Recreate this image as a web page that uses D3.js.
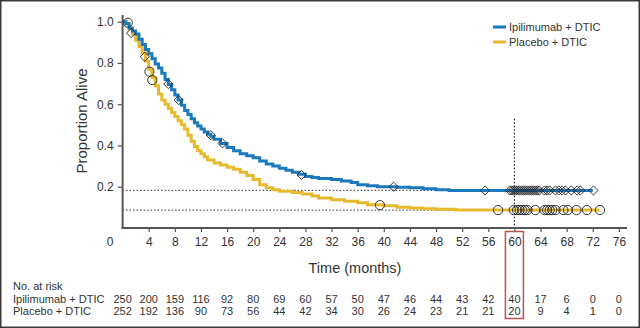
<!DOCTYPE html>
<html>
<head>
<meta charset="utf-8">
<script src="https://cdn.jsdelivr.net/npm/d3@7"></script>
<style>
  body { margin: 0; background: #fff; }
  svg { display: block; font-family: "Liberation Sans", Arial, sans-serif; }
</style>
</head>
<body>
<div id="chart"></div>
<script>
// Kaplan-Meier steps: [months, proportion alive]
const ipiSteps = [
  [0, 1.0], [0.5, 0.99], [1.0, 0.97], [1.5, 0.955], [2.0, 0.94], [2.5, 0.915],
  [3.0, 0.89], [3.5, 0.865], [4.0, 0.845], [4.5, 0.82], [5.0, 0.795], [5.5, 0.775],
  [6.0, 0.75], [6.5, 0.72], [7.0, 0.695], [7.5, 0.67], [8.0, 0.645], [8.5, 0.62],
  [9.0, 0.595], [9.5, 0.57], [10.0, 0.55], [10.5, 0.53], [11.0, 0.51], [11.5, 0.495],
  [12.0, 0.48], [12.5, 0.465], [13.0, 0.455], [13.5, 0.445], [14.0, 0.43], [15.0, 0.41],
  [16.0, 0.39], [17.0, 0.375], [18.0, 0.36], [19.0, 0.35], [20.0, 0.34], [21.0, 0.325],
  [22.0, 0.31], [23.0, 0.30], [24.0, 0.29], [25.0, 0.28], [26.0, 0.27], [27.0, 0.26],
  [28.0, 0.25], [29.0, 0.245], [30.0, 0.24], [32.0, 0.235], [33.5, 0.228], [35.0, 0.22],
  [36.0, 0.21], [37.5, 0.205], [39.0, 0.2], [42.0, 0.198], [44.0, 0.195], [46.0, 0.19],
  [48.0, 0.186], [50.0, 0.182], [72.0, 0.182]
];
const placeboSteps = [
  [0, 1.0], [0.5, 0.99], [1.0, 0.965], [1.5, 0.94], [2.0, 0.91], [2.5, 0.88],
  [3.0, 0.85], [3.5, 0.81], [4.0, 0.77], [4.5, 0.73], [5.0, 0.69], [5.5, 0.65],
  [6.0, 0.62], [6.5, 0.6], [7.0, 0.58], [7.5, 0.56], [8.0, 0.54], [8.5, 0.52],
  [9.0, 0.5], [9.5, 0.48], [10.0, 0.45], [10.5, 0.42], [11.0, 0.395], [11.5, 0.375],
  [12.0, 0.36], [12.5, 0.345], [13.0, 0.33], [14.0, 0.315], [15.0, 0.305], [16.0, 0.295],
  [17.0, 0.285], [18.0, 0.27], [19.0, 0.255], [20.0, 0.235], [21.0, 0.21], [22.0, 0.195],
  [23.0, 0.185], [24.0, 0.178], [26.0, 0.172], [27.5, 0.165], [29.0, 0.155], [30.0, 0.145],
  [32.0, 0.137], [34.0, 0.13], [36.0, 0.122], [37.5, 0.113], [40.0, 0.108], [42.0, 0.10],
  [44.0, 0.097], [46.0, 0.093], [48.0, 0.091], [51.0, 0.087], [73.0, 0.087]
];

// censored observations
const ipiCensor = [
  [1.3, 0.945], [3.4, 0.83], [7.0, 0.698], [8.6, 0.62], [13.5, 0.45], [15.3, 0.41],
  [27.4, 0.257], [41.5, 0.2], [55.5, 0.182],
  [59.3, 0.182], [59.6, 0.182], [59.9, 0.182], [60.2, 0.182], [60.5, 0.182], [60.8, 0.182],
  [61.1, 0.182], [61.4, 0.182], [61.7, 0.182], [62.0, 0.182], [62.3, 0.182], [62.6, 0.182],
  [62.9, 0.182], [63.2, 0.182], [63.5, 0.182], [63.8, 0.182], [64.6, 0.182], [65.0, 0.182],
  [65.4, 0.182], [66.3, 0.182], [66.8, 0.182], [67.3, 0.182], [67.8, 0.182], [68.7, 0.182],
  [69.6, 0.182], [70.1, 0.182], [72.1, 0.182]
];
const placeboCensor = [
  [0.8, 0.995], [4.1, 0.758], [4.55, 0.717], [39.4, 0.111], [57.5, 0.087],
  [59.9, 0.087], [60.4, 0.087], [60.8, 0.087], [61.2, 0.087], [61.6, 0.087], [62.0, 0.087],
  [63.2, 0.087], [64.6, 0.087], [65.0, 0.087], [65.4, 0.087], [65.8, 0.087], [66.3, 0.087],
  [67.5, 0.087], [68.2, 0.087], [69.5, 0.087], [71.1, 0.087], [73.1, 0.087]
];

const xTicks = [0, 4, 8, 12, 16, 20, 24, 28, 32, 36, 40, 44, 48, 52, 56, 60, 64, 68, 72, 76];
const yTicks = [0.2, 0.4, 0.6, 0.8, 1.0];
const ipiRisk = [250, 200, 159, 116, 92, 80, 69, 60, 57, 50, 47, 46, 44, 43, 42, 40, 17, 6, 0, 0];
const placeboRisk = [252, 192, 136, 90, 73, 56, 44, 42, 34, 30, 26, 24, 23, 21, 21, 20, 9, 4, 1, 0];
const landmark = 60;
const landmarkRates = [0.182, 0.087];

const blue = "#1b79bd", gold = "#e6b92e", ink = "#333";

const svg = d3.select("#chart").append("svg")
  .attr("width", 640)
  .attr("height", 328);

const x = d3.scaleLinear().domain([0, 76]).range([122.6, 618.9]);
const y = d3.scaleLinear().domain([0, 1]).range([228, 21.7]);

// frame
svg.append("rect")
  .attr("x", 0.75).attr("y", 0.75).attr("width", 638.5).attr("height", 326.5)
  .attr("fill", "none").attr("stroke", "#3a3a3a").attr("stroke-width", 1.5);

// reference dotted lines
svg.selectAll(".hdot")
  .data(landmarkRates)
  .enter().append("line")
  .attr("x1", x(0)).attr("x2", x(landmark))
  .attr("y1", d => y(d)).attr("y2", d => y(d))
  .attr("stroke", "#555").attr("stroke-width", 1.2).attr("stroke-dasharray", "1.5,2");

svg.append("line")
  .attr("x1", x(landmark)).attr("x2", x(landmark))
  .attr("y1", y(0.53)).attr("y2", 231)
  .attr("stroke", "#222").attr("stroke-width", 1.2).attr("stroke-dasharray", "1.5,2");

// survival curves
const line = d3.line().x(d => x(d[0])).y(d => y(d[1])).curve(d3.curveStepAfter);

svg.append("path").datum(placeboSteps)
  .attr("d", line).attr("fill", "none").attr("stroke", gold).attr("stroke-width", 3);
svg.append("path").datum(ipiSteps)
  .attr("d", line).attr("fill", "none").attr("stroke", blue).attr("stroke-width", 3);

// censor marks
svg.selectAll(".diamond")
  .data(ipiCensor)
  .enter().append("path")
  .attr("d", "M0,-4.6L4.6,0L0,4.6L-4.6,0Z")
  .attr("transform", d => `translate(${x(d[0])},${y(d[1])})`)
  .attr("fill", "none").attr("stroke", "#222").attr("stroke-width", 0.9);

svg.selectAll(".circ")
  .data(placeboCensor)
  .enter().append("circle")
  .attr("cx", d => x(d[0])).attr("cy", d => y(d[1])).attr("r", 4.6)
  .attr("fill", "none").attr("stroke", "#222").attr("stroke-width", 0.9);

// axes
const xAxis = svg.append("g")
  .attr("transform", "translate(0,228)")
  .call(d3.axisBottom(x).tickValues(xTicks.slice(1)).tickSize(4).tickSizeOuter(0).tickPadding(5));
xAxis.select(".domain").remove();
xAxis.selectAll("line").attr("stroke", "#555").attr("stroke-width", 1.2);
xAxis.selectAll("text").attr("font-size", 12).attr("fill", ink).attr("font-family", null);

svg.append("text")
  .attr("x", 110).attr("y", 245.5)
  .attr("text-anchor", "middle").attr("font-size", 12).attr("fill", ink)
  .text(xTicks[0]);

const yAxis = svg.append("g")
  .attr("transform", `translate(${x(0)},0)`)
  .call(d3.axisLeft(y).tickValues(yTicks).tickFormat(d3.format(".1f")).tickSize(5).tickSizeOuter(0).tickPadding(4));
yAxis.select(".domain").remove();
yAxis.selectAll("line").attr("stroke", "#555").attr("stroke-width", 1.2);
yAxis.selectAll("text").attr("font-size", 12).attr("fill", ink).attr("font-family", null);

svg.append("line")
  .attr("x1", x(0)).attr("x2", x(0)).attr("y1", 15).attr("y2", 229)
  .attr("stroke", "#555").attr("stroke-width", 2);
svg.append("line")
  .attr("x1", x(0) - 1).attr("x2", 627).attr("y1", 228).attr("y2", 228)
  .attr("stroke", "#555").attr("stroke-width", 2);

// titles
svg.append("text")
  .attr("x", 355).attr("y", 273)
  .attr("text-anchor", "middle").attr("font-size", 14.5).attr("fill", ink)
  .text("Time (months)");

svg.append("text")
  .attr("transform", "translate(87,121) rotate(-90)")
  .attr("text-anchor", "middle").attr("font-size", 15).attr("fill", ink)
  .text("Proportion Alive");

// legend
const legend = svg.append("g");
[["Ipilimumab + DTIC", blue], ["Placebo + DTIC", gold]].forEach(([name, col], i) => {
  const ly = 27 + i * 15;
  legend.append("line")
    .attr("x1", 493).attr("x2", 506).attr("y1", ly).attr("y2", ly)
    .attr("stroke", col).attr("stroke-width", 3);
  legend.append("text")
    .attr("x", 509).attr("y", ly + 4)
    .attr("font-size", 11).attr("fill", ink)
    .text(name);
});

// number at risk table
const table = svg.append("g").attr("font-size", 11).attr("fill", ink);
table.append("text").attr("x", 13).attr("y", 290).text("No. at risk");
[["Ipilimumab + DTIC", ipiRisk, 302.5], ["Placebo + DTIC", placeboRisk, 315]].forEach(([name, vals, ty]) => {
  table.append("text").attr("x", 13).attr("y", ty).text(name);
  table.selectAll(null)
    .data(vals)
    .enter().append("text")
    .attr("x", (d, i) => x(xTicks[i]))
    .attr("y", ty)
    .attr("text-anchor", "middle")
    .text(d => d);
});

// highlight box at 60 months
svg.append("rect")
  .attr("x", x(landmark) - 9).attr("y", 231.5)
  .attr("width", 18).attr("height", 87)
  .attr("fill", "none").attr("stroke", "#b85450").attr("stroke-width", 1.5);
</script>
</body>
</html>
